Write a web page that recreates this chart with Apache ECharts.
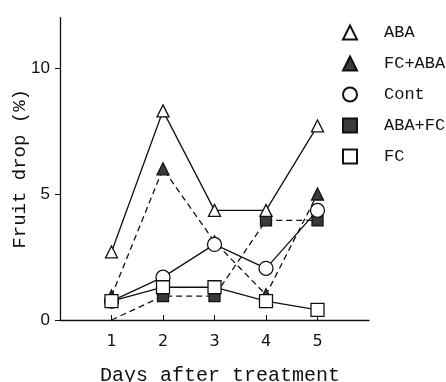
<!DOCTYPE html>
<html><head><meta charset="utf-8">
<script src="https://cdn.jsdelivr.net/npm/echarts@6/dist/echarts.min.js"></script>
<style>html,body{margin:0;padding:0;background:#fff}#c{width:446px;height:382px}</style>
</head><body><div id="c"></div>
<script>
const days = [1, 2, 3, 4, 5];
const xTicks = [1, 2, 3, 4, 5];
const yTicks = [0, 5, 10];
const aba   = [2.7, 8.3, 4.35, 4.35, 7.7];
const fcAba = [0.95, 6.0, 3.1, 1.0, 5.0];
const cont  = [0.75, 1.7, 3.0, 2.05, 4.35];
const abaFc = [0, 0.95, 0.95, 3.95, 3.95];
const fc    = [0.75, 1.3, 1.3, 0.75, 0.4];

const mono = 'Liberation Mono';
const pts = arr => days.map((d, i) => [d, arr[i]]);

function mk(name, arr, symbol, filled, dashed, size) {
  return {
    name, type: 'line', data: pts(arr), symbol, symbolSize: size,
    showAllSymbol: true,
    lineStyle: { color: '#111', width: 1.3, type: dashed ? [6, 4] : 'solid' },
    itemStyle: { color: filled ? '#3a3a3a' : '#fff', borderColor: '#111', borderWidth: 1.3, opacity: 1 },
    emphasis: { disabled: true }, z: filled ? 3 : 4
  };
}
const series = [
  mk('ABA', aba, 'triangle', false, false, 12),
  mk('FC+ABA', fcAba, 'triangle', true, true, 12),
  mk('Cont', cont, 'circle', false, false, 14),
  mk('ABA+FC', abaFc, 'rect', true, true, 11),
  mk('FC', fc, 'rect', false, false, 13)
];
// first ABA+FC point lies on the axis with no visible marker
series[3].data = series[3].data.map((p, i) => i === 0 ? { value: p, symbol: 'none' } : p);

const chart = echarts.init(document.getElementById('c'), null, { renderer: 'canvas' });
chart.setOption({
  animation: false,
  backgroundColor: '#fff',
  grid: { left: 60, right: 77, top: 17.6, bottom: 62, containLabel: false, outerBoundsMode: 'none' },
  legend: {
    orient: 'vertical', left: 337, top: 19, itemWidth: 14, itemHeight: 14, itemGap: 14,
    data: [
      { name: 'ABA', icon: 'triangle' },
      { name: 'FC+ABA', icon: 'triangle' },
      { name: 'Cont', icon: 'circle' },
      { name: 'ABA+FC', icon: 'rect' },
      { name: 'FC', icon: 'rect' }
    ],
    textStyle: { fontFamily: mono, fontSize: 17, color: '#111', padding: [0, 0, 0, 22], lineHeight: 14 },
    selectedMode: false
  },
  xAxis: {
    type: 'value', min: 0, max: 6,
    name: 'Days after treatment', nameLocation: 'middle', nameGap: 46, nameMoveOverlap: false,
    nameTextStyle: { fontFamily: mono, fontSize: 20, color: '#111', padding: [0, 0, 0, 11] },
    axisLine: { lineStyle: { color: '#111', width: 1.3 } },
    axisTick: { inside: true, length: 5, customValues: xTicks, lineStyle: { color: '#111' } },
    axisLabel: { customValues: xTicks, fontFamily: 'DejaVu Sans', fontSize: 16, color: '#111', margin: 14 },
    splitLine: { show: false }
  },
  yAxis: {
    type: 'value', min: 0, max: 12,
    name: 'Fruit drop (%)', nameLocation: 'middle', nameGap: 31, nameRotate: 90, nameMoveOverlap: false,
    nameTextStyle: { fontFamily: mono, fontSize: 19, color: '#111' },
    axisLine: { show: true, lineStyle: { color: '#111', width: 1.3 } },
    axisTick: { show: true, length: 5, customValues: yTicks, lineStyle: { color: '#111' } },
    axisLabel: { customValues: yTicks, fontFamily: 'Liberation Sans', fontSize: 17, color: '#111', margin: 10 },
    splitLine: { show: false }
  },
  series
});
</script></body></html>
